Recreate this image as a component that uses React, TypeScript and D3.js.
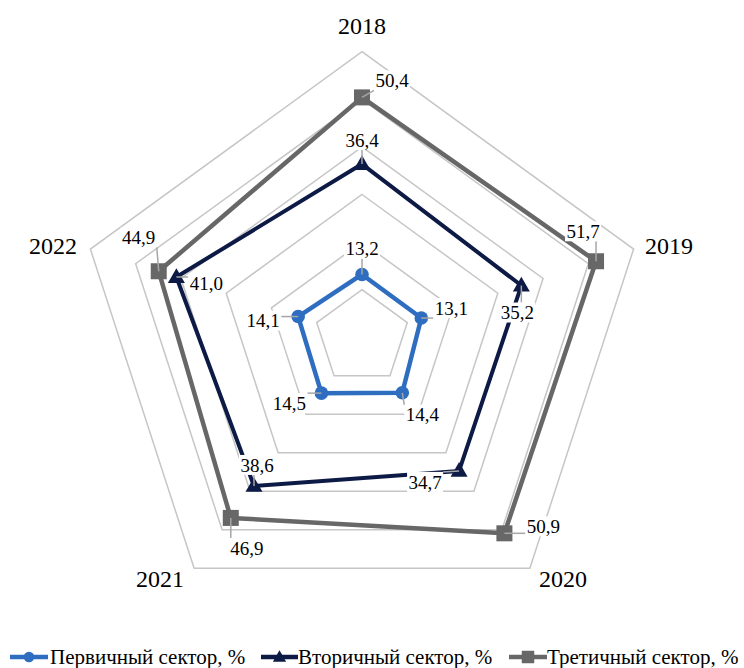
import React, { useEffect, useState } from "react";
import * as d3 from "d3";

const categories = ["2018", "2019", "2020", "2021", "2022"];
const seriesNames = ["Первичный сектор, %", "Вторичный сектор, %", "Третичный сектор, %"];
const primary = [13.2, 13.1, 14.4, 14.5, 14.1];
const secondary = [36.4, 35.2, 34.7, 38.6, 41.0];
const tertiary = [50.4, 51.7, 50.9, 46.9, 44.9];
const gridTicks = [10, 20, 30, 40, 50, 60];

// label offsets (text centre relative to point)
const labelOffsets = [
  [[0, -26], [30, -10], [20, 22], [-32, 10], [-35, 4]],
  [[0, -24], [-4, 27], [-34, 11], [3, -21], [30, 6]],
  [[30, -17], [-13, -30], [39, -7], [16, 30], [-20, -34]],
];

const W = 744, H = 668;
const cx = 362, cy = 337.3, R = 285.6;
const colors = ["#2E6DBF", "#0C1A45", "#676767"];
const FONT = `"Liberation Serif", "Tinos", "Times New Roman", monospace`;

const rScale = d3.scaleLinear().domain([0, 60]).range([0, R]);
const aScale = d3.scaleLinear().domain([0, categories.length]).range([0, 2 * Math.PI]);

function pt(i: number, v: number): [number, number] {
  const a = aScale(i);
  const r = rScale(v);
  return [cx + r * Math.sin(a), cy - r * Math.cos(a)];
}

function Marker({ kind, x, y, color, scale = 1 }: { kind: number; x: number; y: number; color: string; scale?: number }) {
  if (kind === 0) return <circle cx={x} cy={y} r={6.8 * scale} fill={color} />;
  if (kind === 1) {
    const s = d3.symbol().type(d3.symbolTriangle).size(125 * scale * scale)();
    return <path d={s || ""} transform={`translate(${x},${y + 1})`} fill={color} />;
  }
  const h = 8 * scale;
  return <rect x={x - h} y={y - h} width={2 * h} height={2 * h} fill={color} />;
}

export default function App() {
  const [, setReady] = useState(false);
  useEffect(() => {
    const f: any = (document as any).fonts;
    if (f && f.load) {
      f.load('19px "Liberation Serif"').then(() => setReady(true)).catch(() => setReady(true));
    }
  }, []);

  const data = [primary, secondary, tertiary];
  const lineGen = d3
    .lineRadial<number>()
    .angle((_, i) => aScale(i))
    .radius((d) => rScale(d))
    .curve(d3.curveLinearClosed);

  const widths = [4.5, 4, 4.5];

  const labelEls: React.ReactNode[] = [];
  data.forEach((vals, s) => {
    vals.forEach((v, i) => {
      const [px, py] = pt(i, v);
      const [dx, dy] = labelOffsets[s][i];
      const lx = px + dx, ly = py + dy;
      const txt = v.toFixed(1).replace(".", ",");
      const bw = 36, bh = 20;
      const nx = Math.max(lx - bw / 2, Math.min(px, lx + bw / 2));
      const ny = Math.max(ly - bh / 2, Math.min(py, ly + bh / 2));
      labelEls.push(
        <g key={`l${s}-${i}`}>
          <line x1={px} y1={py} x2={nx} y2={ny} stroke="#A6A6A6" strokeWidth={1.5} />
          <rect x={lx - bw / 2} y={ly - bh / 2} width={bw} height={bh} fill="#fff" />
          <text x={lx} y={ly} dy="0.35em" textAnchor="middle" fontSize={19} style={{ fontFamily: FONT }} fill="#000">
            {txt}
          </text>
        </g>
      );
    });
  });

  const catPos = [
    [362, 26],
    [669, 246],
    [563, 579],
    [160, 579],
    [53, 246],
  ];

  const legendItems = [
    [10, 48, 50],
    [261, 298, 298],
    [509, 547, 547],
  ];
  const legendY = 657;

  return (
    <svg width={W} height={H} style={{ position: "absolute", left: 0, top: 0, fontFamily: FONT }}>
      <rect width={W} height={H} fill="#fff" />
      {gridTicks.map((t) => (
        <polygon
          key={t}
          points={categories.map((_, i) => pt(i, t).join(",")).join(" ")}
          fill="none"
          stroke="#C6C6C6"
          strokeWidth={1.5}
        />
      ))}
      {data.map((vals, s) => (
        <path
          key={`s${s}`}
          d={lineGen(vals) || ""}
          transform={`translate(${cx},${cy})`}
          fill="none"
          stroke={colors[s]}
          strokeWidth={widths[s]}
          strokeLinejoin="round"
        />
      ))}
      {data.map((vals, s) =>
        vals.map((v, i) => {
          const [x, y] = pt(i, v);
          return <Marker key={`m${s}-${i}`} kind={s} x={x} y={y} color={colors[s]} />;
        })
      )}
      {labelEls}
      {categories.map((c, i) => (
        <text
          key={c}
          x={catPos[i][0]}
          y={catPos[i][1]}
          dy="0.33em"
          textAnchor="middle"
          fontSize={24}
          style={{ fontFamily: FONT }}
          fill="#000"
        >
          {c}
        </text>
      ))}
      {seriesNames.map((n, s) => {
        const [x1, x2, tx] = legendItems[s];
        return (
          <g key={n}>
            <line x1={x1} y1={legendY} x2={x2} y2={legendY} stroke={colors[s]} strokeWidth={4.5} />
            <Marker kind={s} x={(x1 + x2) / 2} y={legendY} color={colors[s]} scale={0.78} />
            <text x={tx} y={664} fontSize={21} style={{ fontFamily: FONT }} fill="#000">
              {n}
            </text>
          </g>
        );
      })}
    </svg>
  );
}
